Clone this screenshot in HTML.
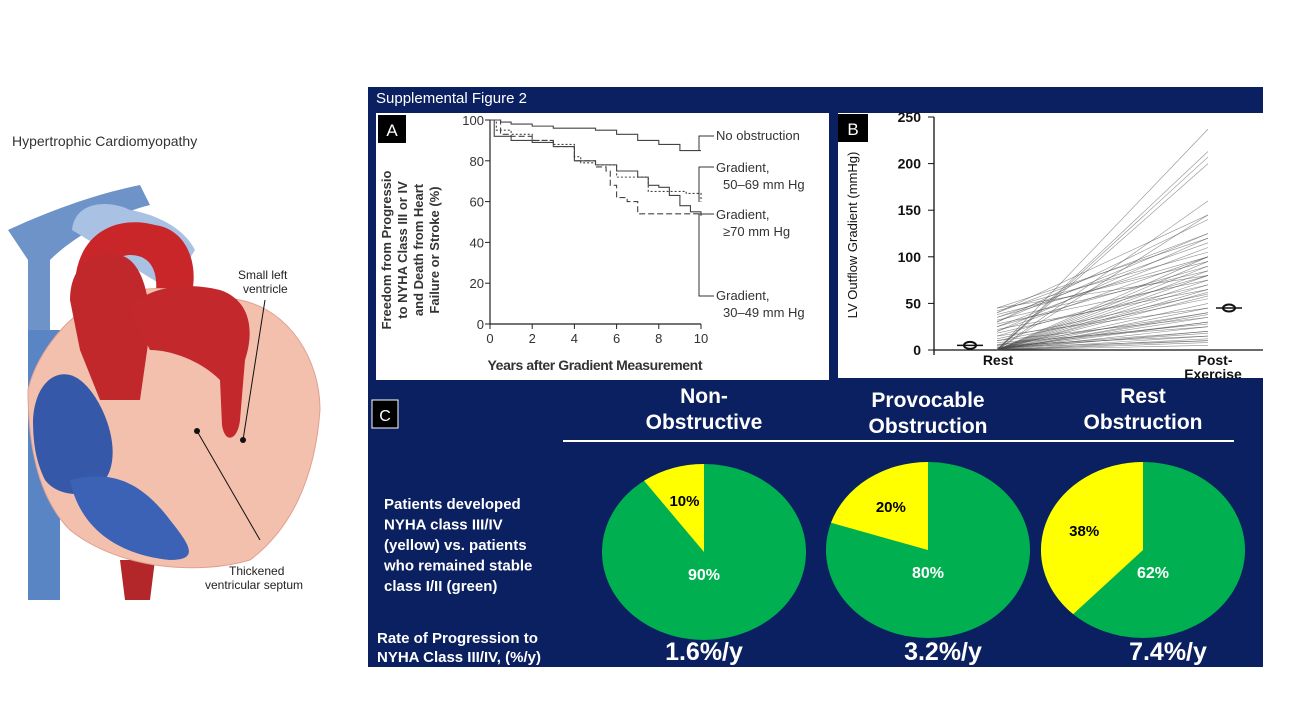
<!DOCTYPE html>
<html><head><meta charset="utf-8"><style>
body{margin:0;background:#fff;width:1295px;height:709px;overflow:hidden;font-family:"Liberation Sans",sans-serif}
svg{position:absolute;left:0;top:0}
</style></head><body>
<svg width="1295" height="709" viewBox="0 0 1295 709">
<g>
<text x="12" y="146" font-size="14" fill="#333">Hypertrophic Cardiomyopathy</text>
<path d="M8,230 C40,215 90,195 140,185 L150,205 C110,215 70,240 50,260 L50,600 L28,600 L28,260 Z" fill="#6d93c9"/>
<path d="M28,330 L60,330 L60,600 L28,600Z" fill="#5a85c4"/>
<path d="M72,230 C75,200 110,200 130,210 C160,215 185,230 195,250 L170,290 Z" fill="#a9c1e2"/>
<path d="M75,300 C70,230 120,215 155,225 C190,230 200,270 190,300 L155,300 C160,270 150,255 130,255 C110,255 100,280 100,310Z" fill="#c9262a"/>
<path d="M120,560 L155,560 L150,600 L125,600Z" fill="#b3272b"/>
<path d="M28,390 C35,360 60,320 100,300 C150,280 190,290 240,300 C290,310 320,360 320,410 C315,480 290,530 250,560 C200,575 120,570 70,530 C40,500 28,450 28,390Z" fill="#f3c0ae" stroke="#e0a090"/>
<path d="M33,420 C35,380 60,365 80,380 C100,395 120,440 110,470 C100,500 60,500 45,480 C35,460 33,440 33,420Z" fill="#3658a8"/>
<path d="M70,480 C110,470 140,480 170,520 C190,545 200,560 170,560 C120,555 80,530 70,480Z" fill="#3c62b5"/>
<path d="M70,300 C70,260 100,250 120,255 C140,260 150,290 150,330 L140,400 L100,400 L80,350Z" fill="#c1282b"/>
<path d="M130,310 C140,290 180,280 220,290 C250,300 255,330 245,360 L240,420 C238,440 225,445 222,425 L220,380 C200,360 170,350 150,350Z" fill="#c3292c"/>
<line x1="265" y1="300" x2="243" y2="440" stroke="#111"/>
<circle cx="243" cy="440" r="3" fill="#111"/>
<line x1="197" y1="431" x2="260" y2="540" stroke="#111"/>
<circle cx="197" cy="431" r="3" fill="#111"/>
<text x="238" y="279" font-size="12" fill="#222">Small left</text>
<text x="243" y="293" font-size="12" fill="#222">ventricle</text>
<text x="229" y="575" font-size="12" fill="#222">Thickened</text>
<text x="205" y="589" font-size="12" fill="#222">ventricular septum</text>
</g>
<rect x="368" y="87" width="895" height="580" fill="#0b2060"/>
<text x="376" y="103" font-size="15" fill="#fff">Supplemental Figure 2</text>
<rect x="376" y="113" width="453" height="267" fill="#fff"/>
<rect x="838" y="113" width="425" height="265" fill="#fff"/>
<rect x="378" y="115" width="28" height="28" fill="#000"/><text x="392" y="136" font-size="17" fill="#fff" text-anchor="middle">A</text>
<rect x="838" y="114" width="30" height="28" fill="#000"/><text x="853" y="135" font-size="17" fill="#fff" text-anchor="middle">B</text>
<rect x="372" y="400" width="26" height="28" fill="#000" stroke="#fff" stroke-width="1"/><text x="385" y="421" font-size="16" fill="#fff" text-anchor="middle">C</text>
<g id="ga"></g><g id="gb"></g><g id="gc"></g>
</svg>
<script>
const NS='http://www.w3.org/2000/svg';
function mk(p,t,a,txt){const e=document.createElementNS(NS,t);for(const k in a)e.setAttribute(k,a[k]);if(txt!==undefined)e.textContent=txt;p.appendChild(e);return e;}
// ---- Panel A data ----
const kmTicksX=[0,2,4,6,8,10];
const kmTicksY=[0,20,40,60,80,100];
const noObsT=[0,0.5,1,2,3,4,5,6,7,8,9,10];
const noObsV=[100,99,98,97,96,96,95,93,90,88,85,85];
const g5069T=[0,0.3,1,2,3,4,4.3,5,5.5,6,7,7.5,8,9,9.3,10];
const g5069V=[100,95,93,90,88,82,79,78,78,72,72,65,65,65,64,60];
const g70T=[0,0.5,1,2,3,4,5,5.5,5.7,6,6.5,7,8,9,10];
const g70V=[100,93,92,90,87,80,77,75,68,62,60,54,54,54,54];
const g3049T=[0,0.2,1,2,3,4,5,6,7,7.5,8,8.5,9,9.5,10];
const g3049V=[100,92,90,89,87,80,78,75,72,68,67,63,58,55,53];
const ax=t=>490+t*21.1, ay=v=>324-v*2.04;
const ga=document.getElementById('ga');
let e;
e=mk(ga,'line',{x1:490,y1:120,x2:490,y2:324,stroke:'#222','stroke-width':1.2});


e=mk(ga,'line',{x1:490,y1:324,x2:701,y2:324,stroke:'#222','stroke-width':1.2});


kmTicksX.forEach(t=>{mk(ga,'line',{x1:ax(t),y1:324,x2:ax(t),y2:329,stroke:'#222'});
e=mk(ga,'text',{x:ax(t),y:343,'font-size':13,fill:'#333','text-anchor':'middle'},t);

});
kmTicksY.forEach(v=>{mk(ga,'line',{x1:485,y1:ay(v),x2:490,y2:ay(v),stroke:'#222'});
e=mk(ga,'text',{x:484,y:ay(v)+5,'font-size':13,fill:'#333','text-anchor':'end'},v);

});
e=mk(ga,'text',{x:595,y:370,'font-size':14,'font-weight':'bold',fill:'#333','text-anchor':'middle',textLength:215},'Years after Gradient Measurement');


const yl=['Freedom from Progressio','to NYHA Class III or IV','and Death from Heart','Failure or Stroke (%)'];
yl.forEach((s,i)=>{e=mk(ga,'text',{transform:`translate(${391+i*16},250) rotate(-90)`,'font-size':13,'font-weight':'bold',fill:'#333','text-anchor':'middle'},s);

});
function step(T,V){let d=`M${ax(T[0])},${ay(V[0])}`;for(let i=1;i<T.length;i++){d+=` H${ax(T[i])} V${ay(V[i])}`;}return d;}
[[noObsT,noObsV,'none','km-no-obstruction'],[g5069T,g5069V,'2,2','km-gradient-50-69'],[g70T,g70V,'6,3','km-gradient-70'],[g3049T,g3049V,'none','km-gradient-30-49']].forEach(s=>{
e=mk(ga,'path',{d:step(s[0],s[1]),fill:'none',stroke:'#444','stroke-width':1.1,'stroke-dasharray':s[2]});

});
mk(ga,'path',{d:'M699,151 V136 H714',fill:'none',stroke:'#333'});
mk(ga,'path',{d:'M699,202 V167 H714',fill:'none',stroke:'#333'});
mk(ga,'path',{d:'M699,214 H714',fill:'none',stroke:'#333'});
mk(ga,'path',{d:'M699,214 V296 H714',fill:'none',stroke:'#333'});
[['No obstruction',140],['Gradient,',172],['50–69 mm Hg',189],['Gradient,',219],['≥70 mm Hg',236],['Gradient,',300],['30–49 mm Hg',317]].forEach((s,i)=>{
e=mk(ga,'text',{x:(s[0].startsWith('G')||s[0].startsWith('N'))?716:723,y:s[1],'font-size':13,fill:'#333'},s[0]);

});
// ---- Panel B data ----
const bTicks=[0,50,100,150,200,250];
const restVals=[0,0,0,0,0,0,0,0,0,0,0,0,0,0,0,0,0,0,0,0,0,0,0,0,0,0,0,0,2,3,5,5,8,10,10,12,15,15,18,20,20,22,25,25,28,30,30,32,35,35,38,40,40,42,45,45,3,6,2,0];
const postVals=[237,213,207,200,160,145,100,95,90,85,80,75,70,65,62,58,50,40,38,35,30,25,20,15,12,10,8,5,30,20,40,15,25,55,35,60,45,80,70,100,120,65,90,110,75,125,140,85,115,100,95,125,145,105,80,120,10,28,18,45];
const bRest=5, bPost=45;
const by=v=>350-v*0.932, rx=997, px=1208;
const gb=document.getElementById('gb');
e=mk(gb,'line',{x1:934,y1:117,x2:934,y2:355,stroke:'#111','stroke-width':1.3});


e=mk(gb,'line',{x1:934,y1:350,x2:1263,y2:350,stroke:'#111','stroke-width':1.3});


bTicks.forEach(v=>{mk(gb,'line',{x1:928,y1:by(v),x2:934,y2:by(v),stroke:'#111'});
e=mk(gb,'text',{x:921,y:by(v)+5,'font-size':14,'font-weight':'bold',fill:'#111','text-anchor':'end'},v);

});
e=mk(gb,'text',{transform:'translate(857,235) rotate(-90)','font-size':13,fill:'#111','text-anchor':'middle'},'LV Outflow Gradient (mmHg)');


restVals.forEach((r,i)=>{e=mk(gb,'line',{x1:rx,y1:by(r),x2:px,y2:by(postVals[i]),stroke:'#444','stroke-width':0.6,'stroke-opacity':0.6});

});
[[970,bRest,'rest-mean-marker'],[1229,bPost,'post-mean-marker']].forEach(m=>{
mk(gb,'line',{x1:m[0]-13,y1:by(m[1]),x2:m[0]+13,y2:by(m[1]),stroke:'#111','stroke-width':1.5});
e=mk(gb,'ellipse',{cx:m[0],cy:by(m[1]),rx:6,ry:3.5,fill:'none',stroke:'#111','stroke-width':2});

});
[['Rest',998,365],['Post-',1215,365],['Exercise',1213,379]].forEach(s=>{e=mk(gb,'text',{x:s[1],y:s[2],'font-size':14,'font-weight':'bold',fill:'#111','text-anchor':'middle'},s[0]);

});
// ---- Panel C data ----
const groups=[['Non-','Obstructive'],['Provocable','Obstruction'],['Rest','Obstruction']];
const yellowPct=[10,20,38];
const rates=['1.6%/y','3.2%/y','7.4%/y'];
const gc=document.getElementById('gc');
const cx=[704,928,1143], cyy=[552,550,550];
groups.forEach((g,i)=>{
e=mk(gc,'text',{x:cx[i],y:i==1?407:403,'font-size':21,'font-weight':'bold',fill:'#fff','text-anchor':'middle'},g[0]);


e=mk(gc,'text',{x:cx[i],y:i==1?433:429,'font-size':21,'font-weight':'bold',fill:'#fff','text-anchor':'middle'},g[1]);


const R=102,Ry=88,c=cx[i],cy=cyy[i];
e=mk(gc,'ellipse',{cx:c,cy:cy,rx:R,ry:Ry,fill:'#00b050'});


const a=yellowPct[i]/100*2*Math.PI;
const ex=c-R*Math.sin(a), ey=cy-Ry*Math.cos(a);
e=mk(gc,'path',{d:`M${c},${cy} L${c},${cy-Ry} A${R},${Ry} 0 ${a>Math.PI?1:0} 0 ${ex},${ey} Z`,fill:'#ffff00'});


const ha=a/2;
e=mk(gc,'text',{x:c-R*0.62*Math.sin(ha),y:cy-Ry*0.62*Math.cos(ha)+6,'font-size':15,'font-weight':'bold',fill:'#000','text-anchor':'middle'},yellowPct[i]+'%');


e=mk(gc,'text',{x:c+(i==2?10:0),y:cy+28,'font-size':16,'font-weight':'bold',fill:'#fff','text-anchor':'middle'},(100-yellowPct[i])+'%');


e=mk(gc,'text',{x:cx[i]+(i==1?15:i==2?25:0),y:660,'font-size':25,'font-weight':'bold',fill:'#fff','text-anchor':'middle'},rates[i]);


});
mk(gc,'line',{x1:563,y1:441,x2:1234,y2:441,stroke:'#fff','stroke-width':2});
['Patients developed','NYHA class III/IV','(yellow)  vs. patients','who remained stable','class I/II (green)'].forEach((s,i)=>{
e=mk(gc,'text',{x:384,y:509+i*20.5,'font-size':15,'font-weight':'bold',fill:'#fff'},s);

});
['Rate of Progression to','NYHA Class III/IV,  (%/y)'].forEach((s,i)=>{
e=mk(gc,'text',{x:377,y:643+i*19,'font-size':15,'font-weight':'bold',fill:'#fff'},s);

});
</script>
</body></html>
